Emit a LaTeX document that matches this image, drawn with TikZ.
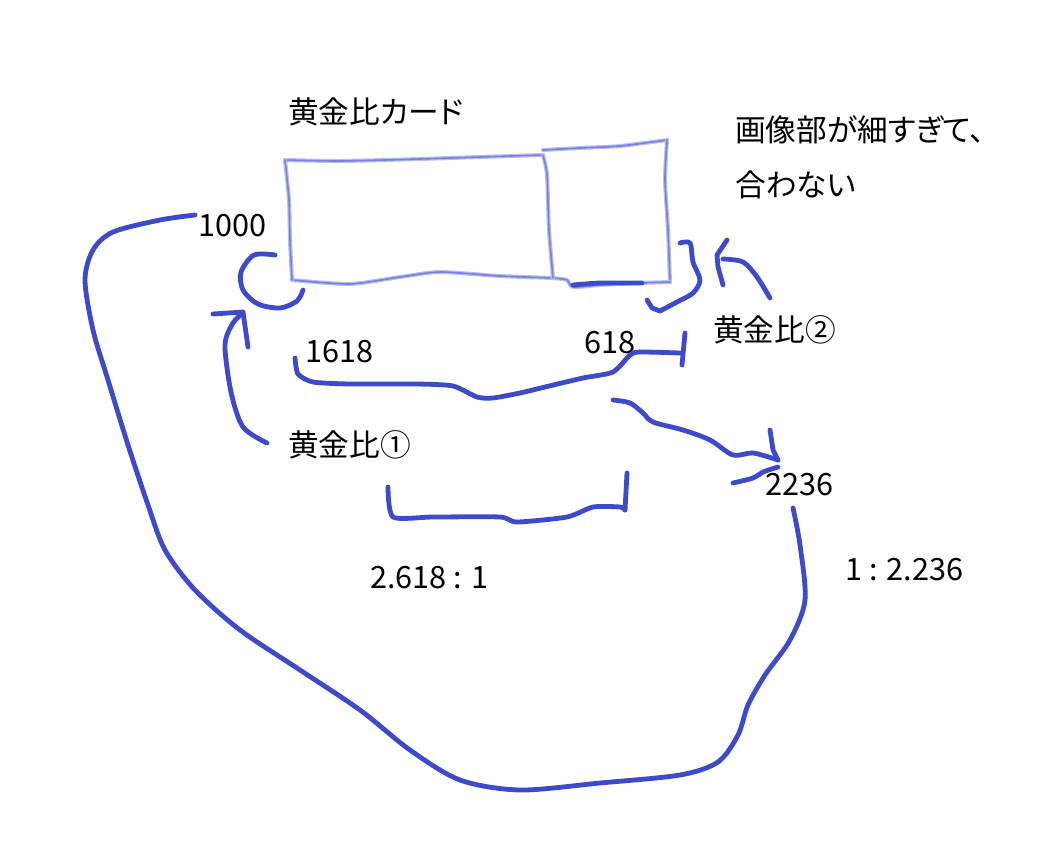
\documentclass[tikz,border=0pt]{standalone}
\usepackage{fontspec}
\setmainfont{Noto Sans CJK JP}[RawFeature=+palt]
\definecolor{sketchblue}{RGB}{62,74,204}
\definecolor{cardblue}{RGB}{120,130,222}
\definecolor{cardhalo}{RGB}{185,190,238}
\begin{document}
\begin{tikzpicture}[x=0.75pt,y=-0.75pt,
  ink/.style={draw=sketchblue,line width=3.6pt,line cap=round,line join=round},
  card/.style={draw=cardblue,line width=1.2pt,line cap=round,line join=round,
    preaction={draw=cardhalo,line width=3pt,line cap=round,line join=round}},
  lbl/.style={anchor=west,inner sep=0pt,font=\fontsize{23}{28}\selectfont,text=black}]
\path[fill=white,use as bounding box] (0,0) rectangle (1050,850);
% labels
\node[lbl] (title) at (288,112) {黄金比カード};
\node[lbl] (note1) at (735,130) {画像部が細すぎて、};
\node[lbl] (note2) at (735,185) {合わない};
\node[lbl] (n1000) at (198,226) {1000};
\node[lbl] (n1618) at (305,352) {1618};
\node[lbl] (n618) at (584,343) {618};
\node[lbl] (gr2) at (713,330) {黄金比②};
\node[lbl] (gr1) at (288,445) {黄金比①};
\node[lbl] (n2236) at (765,485) {2236};
\node[lbl] (r1) at (370,578) {2.618 : 1};
\node[lbl] (r2) at (845,570) {1 : 2.236};
% card
\draw[card] plot[smooth,tension=0.4] coordinates {(285,160) (340,161) (420,159) (480,157) (543,155)};
\draw[card] plot[smooth,tension=0.4] coordinates {(543,150) (580,148) (620,146) (667,140)};
\draw[card] plot[smooth,tension=0.4] coordinates {(667,140) (665,180) (668,230) (670,282)};
\draw[card] plot[smooth,tension=0.4] coordinates {(670,282) (640,283) (600,285) (573,287) (567,280) (553,278)};
\draw[card] plot[smooth,tension=0.4] coordinates {(553,278) (500,276) (440,272) (400,277) (350,284) (292,280)};
\draw[card] plot[smooth,tension=0.4] coordinates {(292,280) (290,240) (289,200) (285,160)};
\draw[card] plot[smooth,tension=0.4] coordinates {(543,155) (547,175) (549,230) (553,278)};
% big loop
\draw[ink] plot[smooth,tension=0.5] coordinates {(793,508) (800,545) (805,600) (790,640) (765,675) (748,705) (738,735) (718,762) (680,775) (600,783) (520,790) (460,780) (410,750) (360,710) (300,670) (240,630) (195,590) (165,550) (148,505) (128,445) (108,380) (93,330) (85,280) (93,250) (113,232) (160,220) (195,215)};
% C arrow near 1000
\draw[ink] plot[smooth,tension=0.5] coordinates {(275,255) (254,255) (241,272) (243,290) (258,304) (280,308) (297,301) (303,290)};
% arrow from gr1
\draw[ink] plot[smooth,tension=0.5] coordinates {(267,443) (243,427) (231,392) (225,345) (233,323) (243,313)};
\draw[ink] (213,314) -- (243,312) -- (248,347);
% bracket under 1618 / 618
\draw[ink] plot[smooth,tension=0.4] coordinates {(295,358) (298,374) (313,382) (350,384) (417,384) (453,386) (477,397) (493,398) (520,393) (545,387) (583,378) (613,372) (630,355) (640,352) (680,353)};
\draw[ink] (685,333) -- (682,365);
% bracket under 2.618:1
\draw[ink] plot[smooth,tension=0.4] coordinates {(388,487) (393,517) (433,517) (500,517) (517,522) (567,517) (593,507) (620,507) (625,510)};
\draw[ink] (625,510) -- (627,473);
% card bottom right bracket
\draw[ink] plot[smooth,tension=0.4] coordinates {(573,285) (600,283) (642,283)};
% right hook arrow near card
\draw[ink] plot[smooth,tension=0.5] coordinates {(680,243) (690,243) (693,262) (700,280) (693,293) (677,302) (660,311)};
\draw[ink] (660,311) -- (652,308) -- (647,300);
% arrow from gr2
\draw[ink] plot[smooth,tension=0.5] coordinates {(770,298) (757,277) (743,262) (723,259)};
\draw[ink] (727,240) -- (717,255) -- (718,267) -- (723,285);
% arrow to 2236
\draw[ink] plot[smooth,tension=0.5] coordinates {(613,400) (630,403) (643,413) (653,422) (683,430) (710,440) (733,455) (753,453) (778,460)};
\draw[ink] (770,430) -- (773,450) -- (778,460);
\draw[ink] plot[smooth,tension=0.5] coordinates {(733,483) (753,478) (763,472) (778,467)};
\end{tikzpicture}
\end{document}
